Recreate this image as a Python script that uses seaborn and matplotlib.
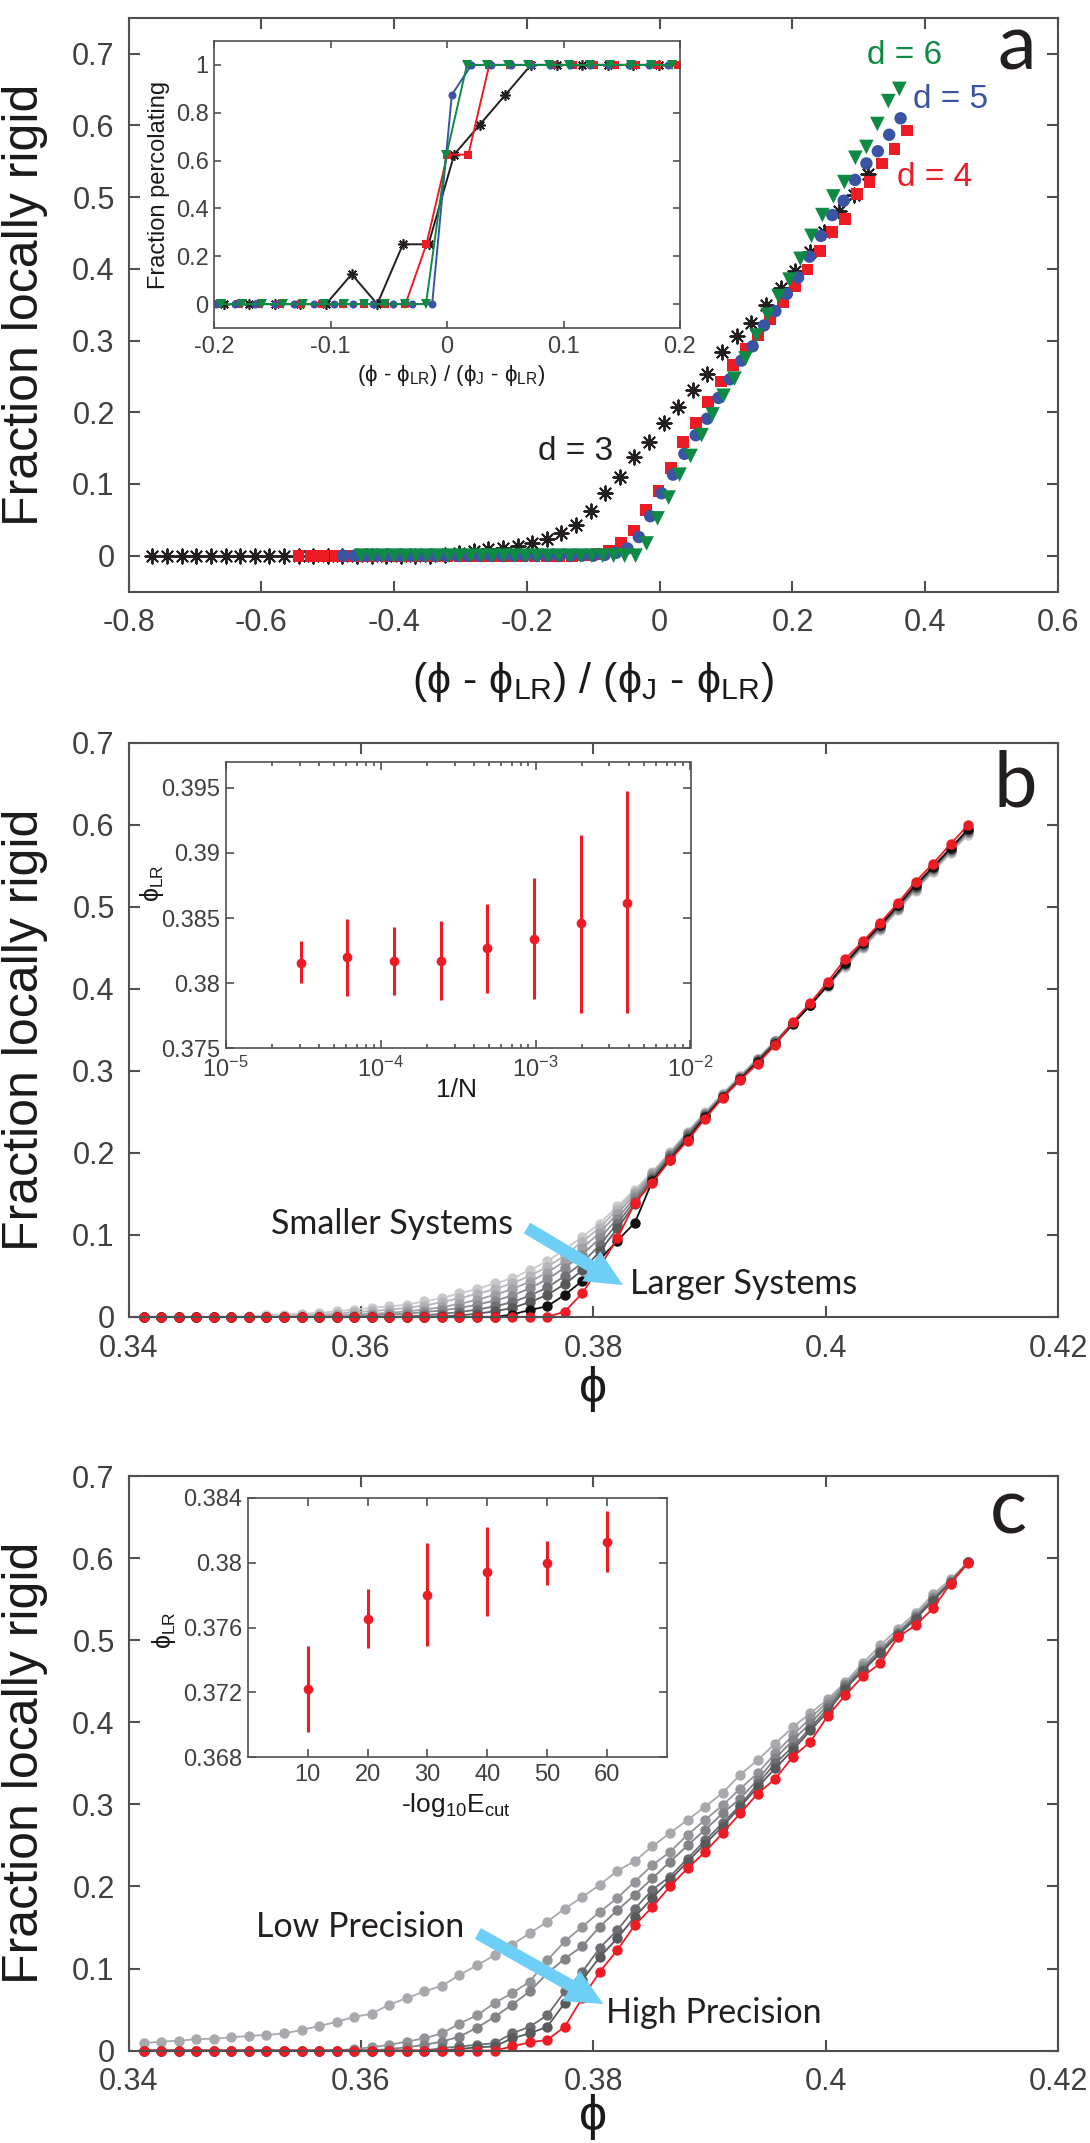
import numpy as np
import pandas as pd
import matplotlib
matplotlib.use("Agg")
import matplotlib.pyplot as plt
import seaborn as sns
from matplotlib.ticker import FixedLocator, FuncFormatter, LogLocator, NullFormatter

# ======================= DATA =======================
# ---- panel a (main): fraction locally rigid vs scaled packing fraction ----
d3_x = [-0.764, -0.742, -0.720, -0.698, -0.676, -0.654, -0.632, -0.610, -0.588, -0.566,
        -0.544, -0.522, -0.500, -0.478, -0.456, -0.434, -0.412, -0.390, -0.368, -0.346,
        -0.324, -0.302, -0.280, -0.258, -0.236, -0.214, -0.192, -0.170, -0.148, -0.126,
        -0.104, -0.082, -0.060, -0.038, -0.016, 0.006, 0.028, 0.050, 0.072, 0.094,
        0.116, 0.138, 0.160, 0.182, 0.204, 0.226, 0.248, 0.270, 0.292, 0.314]
d3_y = [0] * 20 + [0.001, 0.003, 0.006, 0.009, 0.011, 0.013, 0.018, 0.023, 0.031, 0.043,
                   0.062, 0.088, 0.110, 0.137, 0.159, 0.185, 0.208, 0.231, 0.253, 0.284,
                   0.306, 0.324, 0.350, 0.373, 0.397, 0.423, 0.451, 0.481, 0.503, 0.532]

d4_x = [-0.544, -0.5253, -0.5066, -0.4879, -0.4692, -0.4505, -0.4318, -0.4131, -0.3944, -0.3757,
        -0.357, -0.3383, -0.3196, -0.3009, -0.2822, -0.2635, -0.2448, -0.2261, -0.2074, -0.1887,
        -0.17, -0.1513, -0.1326, -0.1139, -0.0952, -0.0765, -0.0578, -0.0391, -0.0204, -0.0017,
        0.017, 0.0357, 0.0544, 0.0731, 0.0918, 0.1105, 0.1292, 0.1479, 0.1666, 0.1853,
        0.204, 0.2227, 0.2414, 0.2601, 0.2788, 0.2975, 0.3162, 0.3349, 0.3536, 0.3723]
d4_y = [0] * 23 + [0.001, 0.002, 0.007, 0.018, 0.035, 0.064, 0.090, 0.122, 0.159, 0.185,
                   0.214, 0.243, 0.266, 0.289, 0.307, 0.330, 0.353, 0.376, 0.399, 0.425,
                   0.451, 0.469, 0.504, 0.521, 0.547, 0.567, 0.593]

d5_x = [-0.477, -0.4599, -0.4427, -0.4256, -0.4084, -0.3913, -0.3742, -0.357, -0.3399, -0.3227,
        -0.3056, -0.2885, -0.2713, -0.2542, -0.237, -0.2199, -0.2028, -0.1856, -0.1685, -0.1513,
        -0.1342, -0.1171, -0.0999, -0.0828, -0.0656, -0.0485, -0.0314, -0.0142, 0.0029, 0.0201,
        0.0372, 0.0543, 0.0715, 0.0886, 0.1058, 0.1229, 0.14, 0.1572, 0.1743, 0.1915,
        0.2086, 0.2257, 0.2429, 0.26, 0.2772, 0.2943, 0.3114, 0.3286, 0.3457, 0.3629]
d5_y = [0] * 23 + [0.001, 0.004, 0.010, 0.026, 0.055, 0.087, 0.113, 0.142, 0.168, 0.191,
                   0.220, 0.246, 0.272, 0.292, 0.321, 0.341, 0.365, 0.388, 0.417, 0.446,
                   0.475, 0.495, 0.524, 0.547, 0.564, 0.587, 0.610]

d6_x = [-0.45, -0.4335, -0.4169, -0.4004, -0.3838, -0.3673, -0.3507, -0.3342, -0.3176, -0.3011,
        -0.2845, -0.268, -0.2514, -0.2349, -0.2183, -0.2018, -0.1852, -0.1687, -0.1521, -0.1356,
        -0.119, -0.1025, -0.0859, -0.0694, -0.0528, -0.0363, -0.0197, -0.0032, 0.0134, 0.03,
        0.0465, 0.0631, 0.0796, 0.0962, 0.1127, 0.1293, 0.1458, 0.1624, 0.1789, 0.1955,
        0.212, 0.2286, 0.2451, 0.2617, 0.2782, 0.2948, 0.3113, 0.3279, 0.3444, 0.361]
d6_y = [0] * 26 + [0.017, 0.052, 0.081, 0.113, 0.139, 0.168, 0.197, 0.223, 0.247, 0.275,
                   0.307, 0.336, 0.362, 0.385, 0.414, 0.446, 0.475, 0.501, 0.521, 0.555,
                   0.570, 0.602, 0.634, 0.651]

# ---- panel a inset: fraction percolating ----
p3_x = [-0.192, -0.170, -0.148, -0.126, -0.104, -0.082, -0.060, -0.038, -0.016, 0.006,
        0.028, 0.050, 0.072, 0.094, 0.116, 0.138, 0.160, 0.182]
p3_y = [0, 0, 0, 0, 0, 0.125, 0, 0.25, 0.25, 0.625, 0.75, 0.875, 1, 1, 1, 1, 1, 1]
p4_x = [-0.1978, -0.1798, -0.1618, -0.1438, -0.1258, -0.1078, -0.0898, -0.0718, -0.0538, -0.0358,
        -0.0178, 0.0002, 0.0182, 0.0362, 0.0542, 0.0722, 0.0902, 0.1082, 0.1262, 0.1442,
        0.1622, 0.1802, 0.1982]
p4_y = [0] * 10 + [0.25, 0.625, 0.625] + [1] * 10
p5_x = [-0.1988, -0.1819, -0.165, -0.1481, -0.1312, -0.1143, -0.0974, -0.0805, -0.0636, -0.0467,
        -0.0298, -0.0129, 0.004, 0.0209, 0.0378, 0.0547, 0.0716, 0.0885, 0.1054, 0.1223,
        0.1392, 0.1561, 0.173, 0.1899]
p5_y = [0] * 12 + [0.875] + [1] * 11
p6_x = [-0.1942, -0.1766, -0.159, -0.1414, -0.1238, -0.1062, -0.0886, -0.071, -0.0534, -0.0358,
        -0.0182, -0.0006, 0.017, 0.0346, 0.0522, 0.0698, 0.0874, 0.105, 0.1226, 0.1402,
        0.1578, 0.1754, 0.193]
p6_y = [0] * 11 + [0.625] + [1] * 11

# ---- panels b and c: packing fraction grid ----
phi = [0.3413, 0.34281, 0.34432, 0.34583, 0.34734, 0.34885, 0.35036, 0.35187, 0.35338, 0.35489,
       0.3564, 0.35791, 0.35942, 0.36093, 0.36244, 0.36395, 0.36546, 0.36697, 0.36848, 0.36999,
       0.3715, 0.37301, 0.37452, 0.37603, 0.37754, 0.37905, 0.38056, 0.38207, 0.38358, 0.38509,
       0.3866, 0.38811, 0.38962, 0.39113, 0.39264, 0.39415, 0.39566, 0.39717, 0.39868, 0.40019,
       0.4017, 0.40321, 0.40472, 0.40623, 0.40774, 0.40925, 0.41076, 0.41227]

# panel b: system sizes (smallest -> largest)
b_N256 = [0] * 6 + [0.001, 0.002, 0.003, 0.004, 0.005, 0.007, 0.009, 0.011, 0.013, 0.015,
                    0.019, 0.023, 0.029, 0.034, 0.041, 0.047, 0.057, 0.068, 0.082, 0.098,
                    0.114, 0.135, 0.155, 0.177, 0.201, 0.226, 0.250, 0.272, 0.294, 0.315,
                    0.336, 0.358, 0.380, 0.403, 0.427, 0.450, 0.472, 0.496, 0.520, 0.543,
                    0.566, 0.588]
b_N512 = [0] * 8 + [0.001, 0.002, 0.003, 0.004, 0.006, 0.007, 0.009, 0.011, 0.014, 0.018,
                    0.023, 0.028, 0.034, 0.041, 0.050, 0.061, 0.075, 0.092, 0.109, 0.131,
                    0.153, 0.176, 0.200, 0.225, 0.249, 0.272, 0.294, 0.315, 0.336, 0.358,
                    0.381, 0.404, 0.428, 0.451, 0.473, 0.497, 0.521, 0.544, 0.567, 0.590]
b_N1024 = [0] * 10 + [0.001, 0.002, 0.003, 0.004, 0.005, 0.007, 0.009, 0.012, 0.016, 0.021,
                      0.027, 0.034, 0.043, 0.054, 0.068, 0.084, 0.103, 0.126, 0.150, 0.174,
                      0.199, 0.224, 0.248, 0.271, 0.293, 0.315, 0.336, 0.359, 0.381, 0.405,
                      0.429, 0.452, 0.474, 0.498, 0.522, 0.545, 0.568, 0.591]
b_N2048 = [0] * 12 + [0.001, 0.002, 0.003, 0.004, 0.006, 0.008, 0.011, 0.015, 0.020, 0.026,
                      0.035, 0.046, 0.060, 0.076, 0.096, 0.120, 0.146, 0.172, 0.198, 0.223,
                      0.247, 0.270, 0.292, 0.314, 0.336, 0.359, 0.381, 0.405, 0.430, 0.453,
                      0.475, 0.499, 0.523, 0.546, 0.569, 0.592]
b_N4096 = [0] * 15 + [0.001, 0.002, 0.004, 0.006, 0.009, 0.013, 0.018, 0.026, 0.036, 0.050,
                      0.066, 0.088, 0.114, 0.142, 0.170, 0.196, 0.222, 0.246, 0.269, 0.291,
                      0.313, 0.335, 0.358, 0.381, 0.405, 0.430, 0.454, 0.476, 0.500, 0.524,
                      0.547, 0.570, 0.593]
b_N8192 = [0] * 17 + [0.001, 0.002, 0.004, 0.007, 0.011, 0.018, 0.027, 0.040, 0.057, 0.080,
                      0.108, 0.138, 0.168, 0.194, 0.220, 0.245, 0.268, 0.290, 0.312, 0.334,
                      0.358, 0.381, 0.405, 0.431, 0.455, 0.477, 0.501, 0.525, 0.548, 0.571,
                      0.594]
b_N16384 = [0] * 21 + [0.003, 0.0085, 0.013, 0.027, 0.044, 0.070, 0.093, 0.115, 0.166, 0.192,
                       0.217, 0.244, 0.268, 0.290, 0.311, 0.333, 0.357, 0.380, 0.405, 0.432,
                       0.456, 0.478, 0.502, 0.527, 0.549, 0.572, 0.595]
b_N32768 = [0] * 24 + [0.0065, 0.029, 0.061, 0.096, 0.139, 0.164, 0.191, 0.215, 0.242, 0.267,
                       0.289, 0.309, 0.332, 0.360, 0.383, 0.409, 0.437, 0.458, 0.481, 0.505,
                       0.531, 0.553, 0.577, 0.600]

# panel b inset
invN = [3.05e-5, 6.10e-5, 1.22e-4, 2.44e-4, 4.88e-4, 9.77e-4, 1.95e-3, 3.91e-3]
phiLR_b = [0.38157, 0.38198, 0.38173, 0.38173, 0.38269, 0.38341, 0.38460, 0.38618]
phiLR_b_hi = [0.38320, 0.38494, 0.38430, 0.38481, 0.38608, 0.38810, 0.39141, 0.39475]
phiLR_b_lo = [0.37999, 0.37898, 0.37910, 0.37872, 0.37928, 0.37875, 0.37772, 0.37772]

# panel c: energy cutoffs (low -> high precision)
c_E10 = [0.009, 0.011, 0.012, 0.014, 0.0145, 0.016, 0.018, 0.019, 0.021, 0.025,
         0.030, 0.035, 0.041, 0.045, 0.056, 0.064, 0.072, 0.079, 0.092, 0.104,
         0.116, 0.129, 0.143, 0.157, 0.173, 0.187, 0.202, 0.219, 0.231, 0.249,
         0.265, 0.281, 0.297, 0.314, 0.336, 0.354, 0.374, 0.394, 0.411, 0.428,
         0.449, 0.472, 0.494, 0.514, 0.533, 0.556, 0.574, 0.595]
c_E20 = [0] * 12 + [0.002, 0.004, 0.007, 0.011, 0.015, 0.021, 0.033, 0.043, 0.058, 0.070,
                    0.084, 0.110, 0.133, 0.151, 0.169, 0.186, 0.206, 0.226, 0.242, 0.263,
                    0.281, 0.299, 0.319, 0.338, 0.362, 0.384, 0.405, 0.425, 0.447, 0.468,
                    0.489, 0.510, 0.530, 0.552, 0.572, 0.595]
c_E30 = [0] * 14 + [0.002, 0.004, 0.007, 0.011, 0.017, 0.028, 0.041, 0.056, 0.072, 0.094,
                    0.112, 0.127, 0.151, 0.171, 0.190, 0.210, 0.230, 0.250, 0.269, 0.289,
                    0.307, 0.330, 0.356, 0.378, 0.399, 0.421, 0.445, 0.466, 0.487, 0.509,
                    0.529, 0.551, 0.571, 0.595]
c_E40 = [0] * 17 + [0.003, 0.005, 0.007, 0.009, 0.021, 0.029, 0.043, 0.072, 0.096, 0.125,
                    0.147, 0.173, 0.196, 0.212, 0.234, 0.256, 0.277, 0.299, 0.325, 0.350,
                    0.370, 0.393, 0.417, 0.443, 0.464, 0.485, 0.507, 0.527, 0.549, 0.571,
                    0.595]
c_E50 = [0] * 18 + [0.002, 0.004, 0.005, 0.015, 0.021, 0.029, 0.058, 0.086, 0.114, 0.137,
                    0.163, 0.186, 0.208, 0.230, 0.252, 0.273, 0.297, 0.321, 0.344, 0.366,
                    0.390, 0.413, 0.441, 0.463, 0.484, 0.506, 0.526, 0.548, 0.570, 0.595]
c_E60 = [0] * 21 + [0.005, 0.010, 0.013, 0.029, 0.064, 0.096, 0.1225, 0.153, 0.175, 0.200,
                    0.222, 0.242, 0.265, 0.289, 0.313, 0.331, 0.358, 0.376, 0.408, 0.433,
                    0.456, 0.472, 0.504, 0.518, 0.539, 0.569, 0.594]

# panel c inset
Ecut = [10, 20, 30, 40, 50, 60]
phiLR_c = [0.37221, 0.37656, 0.37801, 0.37946, 0.37999, 0.38131]
phiLR_c_hi = [0.37485, 0.37836, 0.38121, 0.38220, 0.38133, 0.38317]
phiLR_c_lo = [0.36955, 0.37472, 0.37485, 0.37673, 0.37865, 0.37946]

# ======================= STYLE =======================
sns.set_theme(style="ticks")
plt.rcParams["font.family"] = ["Liberation Sans", "DejaVu Sans"]
plt.rcParams["axes.unicode_minus"] = False
plt.rcParams["mathtext.fontset"] = "custom"
plt.rcParams["mathtext.rm"] = "Liberation Sans"
plt.rcParams["mathtext.it"] = "Liberation Sans:italic"
plt.rcParams["mathtext.bf"] = "Liberation Sans:bold"

RED = "#ED1C24"
BLUE = "#3A54A4"
GREEN = "#0E8A45"
BLACK = "#231F20"
CYAN = "#6DCFF6"
SPINE = "#505050"
TICKC = "#404040"
LABELC = "#1A1A1A"
ASTER = (8, 2, 0)
HUMANIST = ["Lato", "DejaVu Sans"]

W, H = 1090, 2143
fig = plt.figure(figsize=(W / 100, H / 100), dpi=100)
fig.patch.set_facecolor("white")


def rect(x0, y0, x1, y1):
    return [x0 / W, 1 - y1 / H, (x1 - x0) / W, (y1 - y0) / H]


def fx(x):
    return x / W


def fy(y):
    return 1 - y / H


gfmt = FuncFormatter(lambda v, p: f"{round(v, 6):g}")


def style(ax, lw, tlen, fs, pad, xpad=None):
    for s in ax.spines.values():
        s.set_visible(True)
        s.set_color(SPINE)
        s.set_linewidth(lw)
    ax.tick_params(which="both", direction="in", top=True, right=True,
                   color=SPINE, labelcolor=TICKC, labelsize=fs, width=lw,
                   length=tlen, pad=pad)
    if xpad is not None:
        ax.tick_params(axis="x", which="both", pad=xpad)
    ax.tick_params(which="minor", length=tlen * 0.5)
    ax.set_facecolor("white")
    ax.grid(False)
    ax.set_xlabel("")
    ax.set_ylabel("")


# ======================= PANEL A =======================
ax_a = fig.add_axes(rect(128.6, 17.9, 1058, 591.5))
sns.scatterplot(x=d3_x, y=d3_y, marker=ASTER, s=105, color=BLACK, linewidth=1.4,
                ax=ax_a, legend=False, zorder=3)
sns.scatterplot(x=d4_x, y=d4_y, marker="s", s=72, color=RED, edgecolor="none",
                linewidth=0, ax=ax_a, legend=False, zorder=4)
sns.scatterplot(x=d5_x, y=d5_y, marker="o", s=80, color=BLUE, edgecolor="none",
                linewidth=0, ax=ax_a, legend=False, zorder=5)
sns.scatterplot(x=d6_x, y=d6_y, marker="v", s=110, color=GREEN, edgecolor="none",
                linewidth=0, ax=ax_a, legend=False, zorder=6)
ax_a.set_xlim(-0.8, 0.6)
ax_a.set_ylim(-0.05, 0.75)
ax_a.xaxis.set_major_locator(FixedLocator([-0.8, -0.6, -0.4, -0.2, 0, 0.2, 0.4, 0.6]))
ax_a.yaxis.set_major_locator(FixedLocator([0, 0.1, 0.2, 0.3, 0.4, 0.5, 0.6, 0.7]))
ax_a.xaxis.set_major_formatter(gfmt)
ax_a.yaxis.set_major_formatter(gfmt)
style(ax_a, 1.5, 8, 22, 10, xpad=12)

fig.text(fx(867), fy(56), "d = 6", color=GREEN, fontsize=24, ha="left", va="center")
fig.text(fx(913), fy(100), "d = 5", color=BLUE, fontsize=24, ha="left", va="center")
fig.text(fx(897), fy(178), "d = 4", color=RED, fontsize=24, ha="left", va="center")
fig.text(fx(538), fy(452), "d = 3", color=BLACK, fontsize=24, ha="left", va="center")

scaled_label = "(ϕ - ϕ$_{\\mathrm{LR}}$) / (ϕ$_{\\mathrm{J}}$ - ϕ$_{\\mathrm{LR}}$)"
fig.text(fx(593), fy(682), scaled_label, fontsize=31, color=LABELC, ha="center", va="center")

# inset a
ax_ia = fig.add_axes(rect(214.3, 41, 680, 328))
for xs, ys, col, mk, ms in [(p3_x, p3_y, BLACK, ASTER, 7.5), (p4_x, p4_y, RED, "s", 5.2),
                            (p5_x, p5_y, BLUE, "o", 5.8), (p6_x, p6_y, GREEN, "v", 6.5)]:
    sns.lineplot(x=xs, y=ys, color=col, marker=mk, markersize=ms, linewidth=1.4,
                 markeredgewidth=1.2 if mk == ASTER else 0, markeredgecolor=col,
                 estimator=None, sort=False, ax=ax_ia, legend=False)
ax_ia.set_xlim(-0.2, 0.2)
ax_ia.set_ylim(-0.1, 1.1)
ax_ia.xaxis.set_major_locator(FixedLocator([-0.2, -0.1, 0, 0.1, 0.2]))
ax_ia.yaxis.set_major_locator(FixedLocator([0, 0.2, 0.4, 0.6, 0.8, 1]))
ax_ia.xaxis.set_major_formatter(gfmt)
ax_ia.yaxis.set_major_formatter(gfmt)
style(ax_ia, 1.2, 5, 17, 4, xpad=6)
fig.text(fx(451), fy(375), scaled_label, fontsize=16, color=LABELC, ha="center", va="center")
fig.text(fx(159), fy(185), "Fraction percolating", fontsize=17, color=LABELC,
         rotation=90, ha="center", va="center")

# ======================= PANEL B =======================
ax_b = fig.add_axes(rect(128.6, 743, 1058, 1317))
b_series = [(b_N256, "#C9CACC"), (b_N512, "#B4B5B8"), (b_N1024, "#9FA1A4"),
            (b_N2048, "#8A8C8F"), (b_N4096, "#717275"), (b_N8192, "#58595B"),
            (b_N16384, "#111111"), (b_N32768, RED)]
for ys, col in b_series:
    sns.lineplot(x=phi, y=ys, color=col, marker="o", markersize=7.5, linewidth=1.3,
                 markeredgewidth=0, markeredgecolor=col, estimator=None, sort=False,
                 ax=ax_b, legend=False, clip_on=False)
ax_b.set_xlim(0.34, 0.42)
ax_b.set_ylim(0, 0.7)
ax_b.xaxis.set_major_locator(FixedLocator([0.34, 0.36, 0.38, 0.40, 0.42]))
ax_b.yaxis.set_major_locator(FixedLocator([0, 0.1, 0.2, 0.3, 0.4, 0.5, 0.6, 0.7]))
ax_b.xaxis.set_major_formatter(gfmt)
ax_b.yaxis.set_major_formatter(gfmt)
style(ax_b, 1.5, 8, 22, 10, xpad=12)
ax_b.annotate("", xy=(0.38255, 0.039), xytext=(0.37429, 0.1085),
              arrowprops=dict(arrowstyle="simple,head_length=0.95,head_width=0.9,tail_width=0.32",
                              mutation_scale=28, color=CYAN, lw=0, shrinkA=0, shrinkB=0),
              zorder=10)
fig.text(fx(271), fy(1234), "Smaller Systems", fontsize=24.5, color=BLACK,
         family=HUMANIST, ha="left", va="baseline")
fig.text(fx(630), fy(1294), "Larger Systems", fontsize=24.5, color=BLACK,
         family=HUMANIST, ha="left", va="baseline")
fig.text(fx(593), fy(1389), "ϕ", fontsize=36, color=LABELC, ha="center", va="center")

# inset b
ax_ib = fig.add_axes(rect(225.7, 761.7, 690.5, 1048.3))
yerr_b = [np.array(phiLR_b) - np.array(phiLR_b_lo), np.array(phiLR_b_hi) - np.array(phiLR_b)]
ax_ib.errorbar(invN, phiLR_b, yerr=yerr_b, fmt="o", color=RED, markersize=7,
               elinewidth=2.2, capsize=4.5, capthick=2.2, markeredgewidth=0)
ax_ib.set_xscale("log")
ax_ib.set_xlim(1e-5, 1e-2)
ax_ib.set_ylim(0.375, 0.397)
ax_ib.xaxis.set_major_locator(FixedLocator([1e-5, 1e-4, 1e-3, 1e-2]))
ax_ib.xaxis.set_major_formatter(FuncFormatter(lambda v, p: f"$10^{{{int(round(np.log10(v)))}}}$"))
ax_ib.xaxis.set_minor_locator(LogLocator(base=10, subs=np.arange(2, 10)))
ax_ib.xaxis.set_minor_formatter(NullFormatter())
ax_ib.yaxis.set_major_locator(FixedLocator([0.375, 0.38, 0.385, 0.39, 0.395]))
ax_ib.yaxis.set_major_formatter(gfmt)
style(ax_ib, 1.2, 6, 17, 4, xpad=6)
fig.text(fx(457), fy(1090), "1/N", fontsize=19, color=LABELC, ha="center", va="center")
fig.text(fx(152), fy(883), "ϕ$_{\\mathrm{LR}}$", fontsize=18, color=LABELC,
         rotation=90, ha="center", va="center")

# ======================= PANEL C =======================
ax_c = fig.add_axes(rect(128.6, 1476, 1058, 2050.6))
c_series = [(c_E10, "#A7A9AC"), (c_E20, "#939598"), (c_E30, "#828386"),
            (c_E40, "#6D6E71"), (c_E50, "#58595B"), (c_E60, RED)]
for ys, col in c_series:
    sns.lineplot(x=phi, y=ys, color=col, marker="o", markersize=7.5, linewidth=1.3,
                 markeredgewidth=0, markeredgecolor=col, estimator=None, sort=False,
                 ax=ax_c, legend=False, clip_on=False)
ax_c.set_xlim(0.34, 0.42)
ax_c.set_ylim(0, 0.7)
ax_c.xaxis.set_major_locator(FixedLocator([0.34, 0.36, 0.38, 0.40, 0.42]))
ax_c.yaxis.set_major_locator(FixedLocator([0, 0.1, 0.2, 0.3, 0.4, 0.5, 0.6, 0.7]))
ax_c.xaxis.set_major_formatter(gfmt)
ax_c.yaxis.set_major_formatter(gfmt)
style(ax_c, 1.5, 8, 22, 10, xpad=12)
ax_c.annotate("", xy=(0.38087, 0.0568), xytext=(0.37007, 0.1426),
              arrowprops=dict(arrowstyle="simple,head_length=0.95,head_width=0.9,tail_width=0.32",
                              mutation_scale=28, color=CYAN, lw=0, shrinkA=0, shrinkB=0),
              zorder=10)
fig.text(fx(256), fy(1937), "Low Precision", fontsize=24.5, color=BLACK,
         family=HUMANIST, ha="left", va="baseline")
fig.text(fx(606), fy(2023), "High Precision", fontsize=24.5, color=BLACK,
         family=HUMANIST, ha="left", va="baseline")
fig.text(fx(593), fy(2117), "ϕ", fontsize=36, color=LABELC, ha="center", va="center")

# inset c
ax_ic = fig.add_axes(rect(248, 1498, 666.8, 1757.3))
yerr_c = [np.array(phiLR_c) - np.array(phiLR_c_lo), np.array(phiLR_c_hi) - np.array(phiLR_c)]
ax_ic.errorbar(Ecut, phiLR_c, yerr=yerr_c, fmt="o", color=RED, markersize=7,
               elinewidth=2.2, capsize=4.5, capthick=2.2, markeredgewidth=0)
ax_ic.set_xlim(0, 70)
ax_ic.set_ylim(0.368, 0.384)
ax_ic.xaxis.set_major_locator(FixedLocator([10, 20, 30, 40, 50, 60]))
ax_ic.yaxis.set_major_locator(FixedLocator([0.368, 0.372, 0.376, 0.38, 0.384]))
ax_ic.xaxis.set_major_formatter(gfmt)
ax_ic.yaxis.set_major_formatter(gfmt)
style(ax_ic, 1.2, 6, 17, 4, xpad=5)
fig.text(fx(456), fy(1805), "-log$_{\\mathrm{10}}$E$_{\\mathrm{cut}}$", fontsize=19,
         color=LABELC, ha="center", va="center")
fig.text(fx(164), fy(1630), "ϕ$_{\\mathrm{LR}}$", fontsize=18, color=LABELC,
         rotation=90, ha="center", va="center")

# ======================= SHARED LABELS =======================
for yc in [(17.9 + 591.5) / 2, (743 + 1317) / 2, (1476 + 2050.6) / 2]:
    fig.text(fx(25), fy(yc), "Fraction locally rigid", fontsize=36, color=LABELC,
             rotation=90, ha="center", va="center")

for letter, x, yb in [("a", 1017, 70), ("b", 1015, 806), ("c", 1008, 1534)]:
    fig.text(fx(x), fy(yb), letter, fontsize=56, color=BLACK,
             family=HUMANIST, ha="center", va="baseline")

fig.savefig("out.png", dpi=100, facecolor="white")
